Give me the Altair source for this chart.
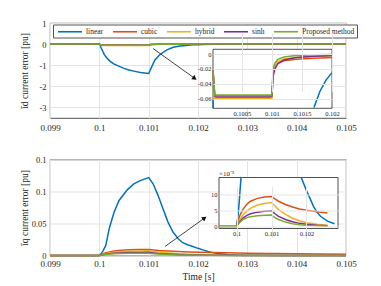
import altair as alt
import pandas as pd

SERIES = ["linear", "cubic", "hybrid", "sinh", "Proposed method"]
COLORS = ["#0072BD", "#D95319", "#EDB120", "#7E2F8E", "#77AC30"]

# ---------- top panel: i_d current error [pu] ----------
d_linear_t = [0.099, 0.0995, 0.1, 0.10002, 0.100025, 0.10003, 0.10007, 0.1001, 0.10015, 0.1002,
              0.1003, 0.10037, 0.1005, 0.1006, 0.1007, 0.10083, 0.101, 0.10107, 0.10113,
              0.10123, 0.10137, 0.1015, 0.10163, 0.1017, 0.1018, 0.1019, 0.102, 0.1021,
              0.1023, 0.1026, 0.103, 0.104, 0.105]
d_linear_v = [0, 0, 0, -0.062, -0.073, -0.15, -0.34, -0.5, -0.65, -0.78,
              -0.95, -1.02, -1.15, -1.23, -1.28, -1.34, -1.39, -1.03, -0.74,
              -0.49, -0.27, -0.15, -0.085, -0.072, -0.05, -0.035, -0.025, -0.017,
              -0.008, -0.003, -0.001, 0, 0]
d_other_t = [0.099, 0.0995, 0.1, 0.10002, 0.10005, 0.1005, 0.101, 0.10102, 0.10105, 0.1011,
             0.1012, 0.1014, 0.1017, 0.102, 0.103, 0.104, 0.105]
d_cubic_v = [0, 0, 0, -0.022, -0.0585, -0.0585, -0.0585, -0.026, -0.017, -0.012,
             -0.009, -0.007, -0.0055, -0.0045, -0.002, -0.001, -0.0005]
d_hybrid_v = [0, 0, 0, -0.022, -0.06, -0.06, -0.06, -0.025, -0.016, -0.01,
              -0.0065, -0.0045, -0.0032, -0.0025, -0.001, 0, 0]
d_sinh_v = [0, 0, 0, -0.022, -0.0565, -0.0565, -0.0565, -0.03, -0.02, -0.013,
            -0.008, -0.0045, -0.003, -0.002, -0.0005, 0, 0]
d_prop_v = [0, 0, 0, -0.022, -0.055, -0.055, -0.055, -0.02, -0.012, -0.007,
            -0.004, -0.002, -0.001, -0.0005, 0, 0, 0]

# ---------- bottom panel: i_q current error [pu] ----------
q_linear_t = [0.099, 0.0995, 0.1, 0.10004, 0.10008, 0.1001, 0.10013, 0.1002, 0.1003, 0.1004,
              0.10057, 0.1007, 0.10083, 0.101, 0.10109, 0.10119, 0.10129, 0.10139, 0.10149,
              0.10159, 0.10169, 0.1018, 0.10185, 0.102, 0.1021, 0.1022, 0.1023, 0.1024,
              0.1026, 0.1028, 0.103, 0.1033, 0.1036, 0.104, 0.105]
q_linear_v = [0, 0, 0, 0.003, 0.008, 0.011, 0.0155, 0.042, 0.068, 0.086,
              0.103, 0.112, 0.117, 0.1217, 0.112, 0.094, 0.073, 0.0526, 0.037,
              0.027, 0.02, 0.0165, 0.0153, 0.0112, 0.0088, 0.0063, 0.0045, 0.0032,
              0.0017, 0.0009, 0.0005, 0.0002, 0, 0, 0]
q_other_t = [0.099, 0.0995, 0.1, 0.10005, 0.1001, 0.1002, 0.1003, 0.1004, 0.1006, 0.1008,
             0.101, 0.1011, 0.1012, 0.1014, 0.1016, 0.1018, 0.102, 0.1023, 0.1026,
             0.103, 0.1035, 0.104, 0.105]
# values in units of 1e-3 pu
q_cubic_e3 = [0, 0, 0, 2.0, 3.6, 5.6, 7.0, 7.9, 8.8, 9.2, 9.4, 8.6, 7.9, 6.9, 6.1,
              5.5, 5.1, 4.6, 4.2, 3.7, 3.1, 2.6, 1.9]
q_hybrid_e3 = [0, 0, 0, 1.2, 2.3, 3.8, 4.9, 5.7, 6.7, 7.2, 7.5, 6.4, 5.3, 3.8, 2.6,
               1.8, 1.2, 0.7, 0.4, 0.2, 0.1, 0, 0]
q_sinh_e3 = [0, 0, 0, 0.9, 1.7, 2.8, 3.5, 4.0, 4.5, 4.8, 4.9, 4.0, 3.2, 2.2, 1.5,
             1.0, 0.7, 0.4, 0.25, 0.1, 0, 0, 0]
q_prop_e3 = [0, 0, 0, 0.7, 1.4, 2.3, 2.8, 3.1, 3.4, 3.5, 3.6, 2.8, 2.2, 1.4, 0.9,
             0.6, 0.4, 0.25, 0.15, 0.05, 0, 0, 0]

x_ticks = [0.099, 0.1, 0.101, 0.102, 0.103, 0.104, 0.105]
d_ticks = [-3, -2, -1, 0, 1]
q_ticks = [0, 0.05, 0.1, 0.15]
d_inset_xticks = [0.1005, 0.101, 0.1015, 0.102]
d_inset_yticks = [-0.06, -0.04, -0.02, 0]
q_inset_xticks = [0.1, 0.101, 0.102]
q_inset_yticks = [0, 5, 10]

# arrows (start t, start value, end t, end value) in main-plot data units
d_arrow = [0.10109, -0.21, 0.10192, -1.6]
q_arrow = [0.10133, 0.014, 0.10212, 0.0578]


def table(pairs):
    rows = []
    for s, ts, vs in pairs:
        for t, v in zip(ts, vs):
            rows.append({"t": t, "v": v, "s": s})
    return pd.DataFrame(rows)


df_d = table([
    ("linear", d_linear_t, d_linear_v),
    ("cubic", d_other_t, d_cubic_v),
    ("hybrid", d_other_t, d_hybrid_v),
    ("sinh", d_other_t, d_sinh_v),
    ("Proposed method", d_other_t, d_prop_v),
])
df_q = table([
    ("linear", q_linear_t, q_linear_v),
    ("cubic", q_other_t, [v * 1e-3 for v in q_cubic_e3]),
    ("hybrid", q_other_t, [v * 1e-3 for v in q_hybrid_e3]),
    ("sinh", q_other_t, [v * 1e-3 for v in q_sinh_e3]),
    ("Proposed method", q_other_t, [v * 1e-3 for v in q_prop_e3]),
])
df_q_in = df_q.copy()
df_q_in["v"] = df_q_in["v"] * 1000  # inset drawn in units of 1e-3


def inset_rows(df, xdom, ydom):
    """Keep the rows inside the inset window; split each series into runs."""
    tol = (ydom[1] - ydom[0]) * 0.02
    out = []
    for s in SERIES:
        sub = df[df.s == s]
        seg, prev = 0, False
        for _, r in sub.iterrows():
            ok = xdom[0] <= r.t <= xdom[1] and ydom[0] - tol <= r.v <= ydom[1] + tol
            if ok and not prev:
                seg += 1
            if ok:
                out.append({"t": r.t, "v": r.v, "s": s, "seg": f"{s}-{seg}"})
            prev = ok
    return pd.DataFrame(out)


FONT = "Liberation Serif"
TXT = "#262626"
GRID = "#e4e4e4"
W = 296
H1 = 95
H2 = 96

cscale = alt.Scale(domain=SERIES, range=COLORS)
legend_top = alt.Legend(
    orient="none", legendX=3, legendY=1.5, direction="horizontal", columns=5,
    title=None, symbolType="M-3,0H3", symbolSize=64, symbolStrokeWidth=1.6,
    symbolOffset=10, labelOffset=11,
    labelFontSize=7.5, labelFont=FONT, labelColor=TXT, strokeColor="#555555",
    fillColor="white", padding=2, columnPadding=5, rowPadding=0,
)


def series_layers(df, xenc, yenc, legend, detail=False):
    out = []
    for s in SERIES:
        c = alt.Chart(df).transform_filter(alt.datum.s == s)
        enc = dict(x=xenc, y=yenc, color=alt.Color("s:N", scale=cscale, legend=legend))
        if detail:
            enc["detail"] = "seg:N"
        out.append(c.mark_line(strokeWidth=1.5).encode(**enc))
    return out


def main_axes(yticks, ytitle, xtitle, tpad, xlpad, yflush):
    xa = alt.Axis(values=x_ticks, format="~g", grid=True, gridColor=GRID, ticks=False,
                  domain=False, labelFlush=False, labelOverlap=False, labelPadding=xlpad,
                  labelFontSize=9, labelFont=FONT, labelColor=TXT,
                  title=xtitle, titleFontSize=9.5, titlePadding=3, titleFont=FONT,
                  titleColor=TXT, titleFontWeight="normal")
    ya = alt.Axis(values=yticks, format="~g", grid=True, gridColor=GRID, ticks=False,
                  domain=False, labelFlush=yflush, labelOverlap=False, labelPadding=4,
                  labelFontSize=8.5, labelFont=FONT, labelColor=TXT,
                  labelExpr="replace(datum.label, '\u2212', '-')",
                  title=ytitle, titleFontSize=9.5, titlePadding=tpad, titleFont=FONT,
                  titleColor=TXT, titleFontWeight="normal")
    return xa, ya


def inset_axes(xt, yt, xoff, yoff):
    xa = alt.Axis(values=xt, format="~g", grid=True, gridColor=GRID, ticks=False,
                  domain=False, labelFlush=False, labelOverlap=False, labelPadding=2,
                  labelFontSize=6.5, labelFont=FONT, labelColor=TXT,
                  offset=xoff, orient="bottom", zindex=1, title=None)
    ya = alt.Axis(values=yt, format="~g", grid=True, gridColor=GRID, ticks=False,
                  domain=False, labelFlush=False, labelOverlap=False, labelPadding=2,
                  labelFontSize=6.5, labelFont=FONT, labelColor=TXT,
                  offset=yoff, orient="left", zindex=1, title=None,
                  labelExpr="replace(datum.label, '\u2212', '-')")
    return xa, ya


def arrow(a, xs, ys, xa, ya, angle):
    adf = pd.DataFrame([{"t": a[0], "v": a[1], "t2": a[2], "v2": a[3]}])
    rule = alt.Chart(adf).mark_rule(color="#111111", strokeWidth=0.8).encode(
        x=alt.X("t:Q", scale=xs, axis=xa), y=alt.Y("v:Q", scale=ys, axis=ya),
        x2="t2:Q", y2="v2:Q")
    head = alt.Chart(adf).mark_point(shape="triangle", filled=True, color="#111111",
                                     size=28, angle=angle, opacity=1).encode(
        x=alt.X("t2:Q", scale=xs, axis=xa), y=alt.Y("v2:Q", scale=ys, axis=ya))
    return [rule, head]


def panel(df, df_in, ydom, yticks, ytitle, xtitle, tpad, xlpad, yflush, H, legend, arr, angle,
          ix_dom, iy_dom, ix_px, iy_px, ixt, iyt, exp_label):
    xs = alt.Scale(domain=[0.099, 0.105], nice=False, zero=False)
    ys = alt.Scale(domain=ydom, nice=False, zero=False)
    xa, ya = main_axes(yticks, ytitle, xtitle, tpad, xlpad, yflush)
    xenc = alt.X("t:Q", scale=xs, axis=xa)
    yenc = alt.Y("v:Q", scale=ys, axis=ya)
    main = alt.layer(*series_layers(df, xenc, yenc, legend), *arrow(arr, xs, ys, xa, ya, angle))

    ixs = alt.Scale(domain=ix_dom, range=ix_px, nice=False, zero=False)
    iys = alt.Scale(domain=iy_dom, range=iy_px, nice=False, zero=False)
    ixa, iya = inset_axes(ixt, iyt, -(H - iy_px[0]), -ix_px[0])
    ixenc = alt.X("t:Q", scale=ixs, axis=ixa)
    iyenc = alt.Y("v:Q", scale=iys, axis=iya)
    box = alt.Chart(pd.DataFrame([{"a": ix_dom[0], "b": ix_dom[1],
                                   "c": iy_dom[0], "d": iy_dom[1]}])).mark_rect(
        fill="white", stroke=TXT, strokeWidth=0.8).encode(
        x=alt.X("a:Q", scale=ixs, axis=ixa), x2="b:Q",
        y=alt.Y("c:Q", scale=iys, axis=iya), y2="d:Q")
    ins_layers = [box] + series_layers(inset_rows(df_in, ix_dom, iy_dom), ixenc, iyenc,
                                       legend, detail=True)
    if exp_label:
        lab = alt.Chart(pd.DataFrame([{"a": ix_dom[0], "d": iy_dom[1], "txt": exp_label}])).mark_text(
            align="left", baseline="bottom", dy=-0.5, fontSize=7, font=FONT, color=TXT).encode(
            x=alt.X("a:Q", scale=ixs, axis=ixa), y=alt.Y("d:Q", scale=iys, axis=iya),
            text="txt:N")
        ins_layers.append(lab)
    inset = alt.layer(*ins_layers)
    return alt.layer(main, inset).resolve_scale(x="independent", y="independent").properties(
        width=W, height=H)


top = panel(df_d, df_d, [-3.5, 1], d_ticks, "ĩd current error [pu]", None, 9, 5, False, H1,
            legend_top, d_arrow, 126, [0.10002, 0.102], [-0.073, 0.0064], [163, 282],
            [85.3, 26.3], d_inset_xticks, d_inset_yticks, None)
bottom = panel(df_q, df_q_in, [0, 0.15], q_ticks, "ĩq current error [pu]", "Time [s]", 1.5, 3.5,
               -1.5, H2, None, q_arrow, 54, [0.0995, 0.1029], [-0.6, 15.3], [169, 288], [69, 18],
               q_inset_xticks, q_inset_yticks, "×10⁻³")

chart = alt.vconcat(top, bottom, spacing=21.5).resolve_scale(color="independent").properties(
    padding={"left": 11, "top": 10, "right": 5, "bottom": 2}
).configure(font=FONT).configure_view(stroke=TXT, strokeWidth=0.8)

chart.save("out.html", embed_options={"renderer": "svg", "actions": False})
